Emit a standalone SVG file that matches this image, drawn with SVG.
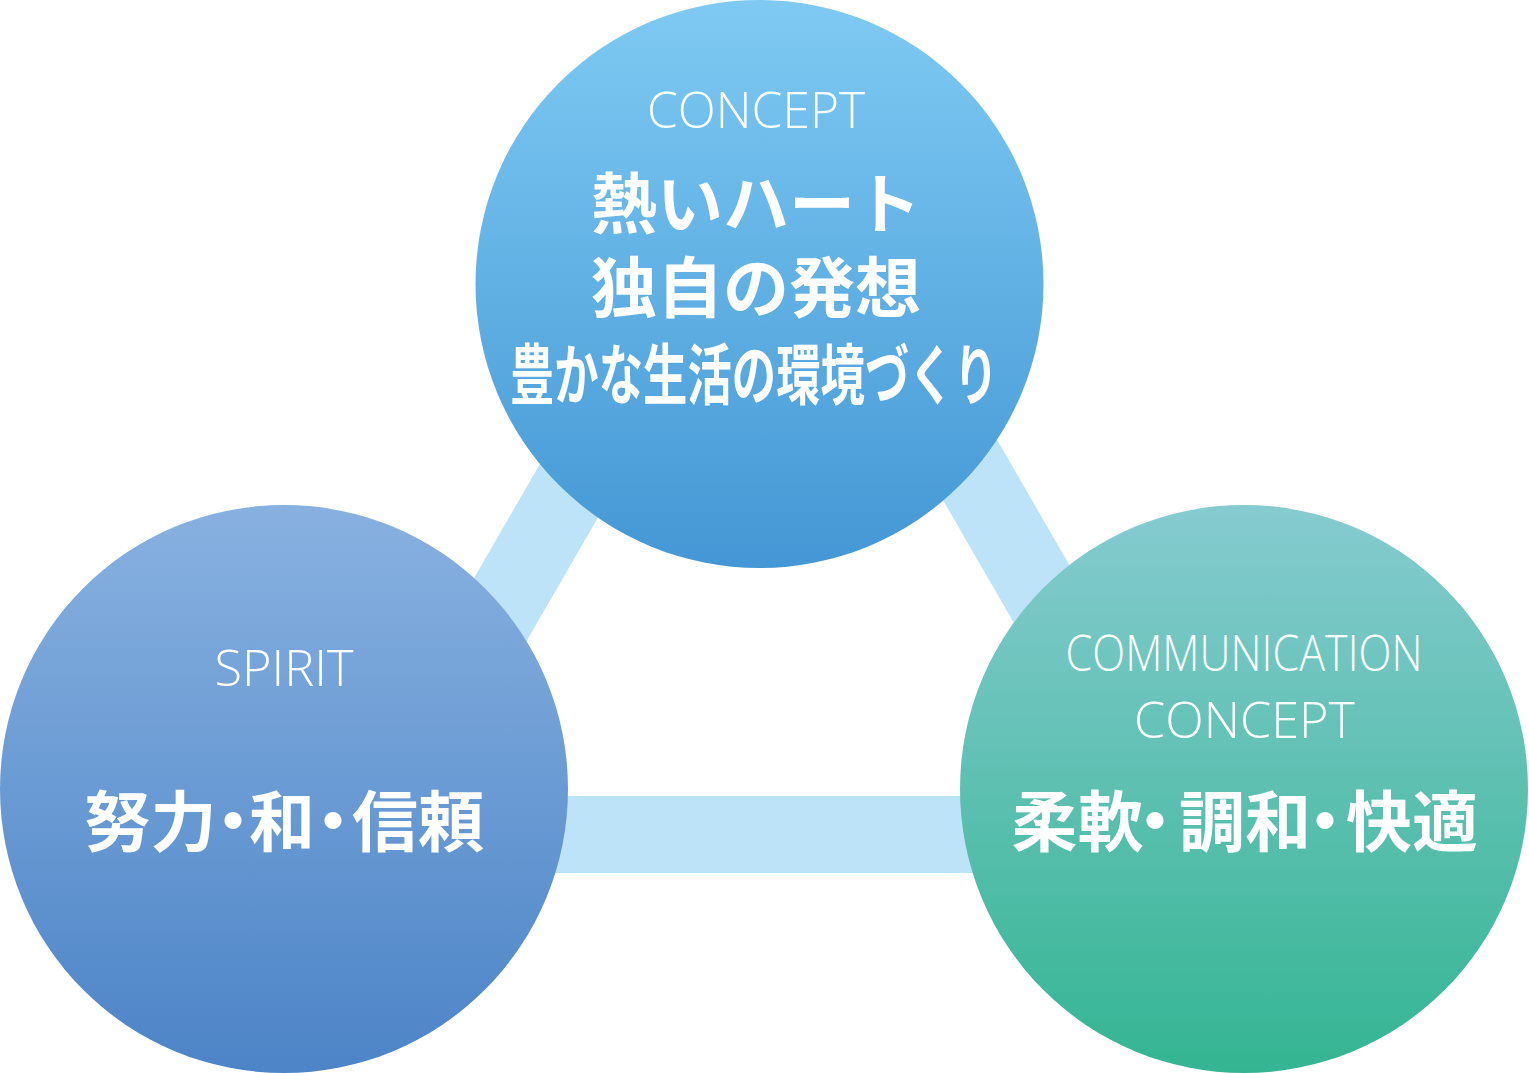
<svg xmlns="http://www.w3.org/2000/svg" width="1529" height="1073" viewBox="0 0 1529 1073">
<defs>
<linearGradient id="gTop" x1="0" y1="0" x2="0" y2="1">
<stop offset="0" stop-color="#7ecaf3"/>
<stop offset="1" stop-color="#4497d5"/>
</linearGradient>
<linearGradient id="gLeft" x1="0" y1="0" x2="0" y2="1">
<stop offset="0" stop-color="#88b1e0"/>
<stop offset="1" stop-color="#4c84c7"/>
</linearGradient>
<linearGradient id="gRight" x1="0" y1="0" x2="0" y2="1">
<stop offset="0" stop-color="#86cbd0"/>
<stop offset="1" stop-color="#34b592"/>
</linearGradient>
<style>
.bar{stroke:#bce3f7;stroke-width:77;fill:none;stroke-linecap:butt}
.en{font-family:"Open Sans","Liberation Sans",sans-serif;font-weight:300;font-size:50px;fill:#ffffff;text-anchor:middle}
.jp{font-family:"Noto Sans CJK JP","Noto Sans",sans-serif;font-weight:700;font-size:66px;fill:#ffffff;text-anchor:middle}
.row{text-anchor:start}
</style>
</defs>
<rect width="1529" height="1073" fill="#ffffff"/>
<g id="connectors">
<line class="bar" x1="775.5" y1="133" x2="370.5" y2="834.5"/>
<line class="bar" x1="775.5" y1="133" x2="1180.5" y2="834.5"/>
<line class="bar" x1="370.5" y1="834.5" x2="1180.5" y2="834.5"/>
</g>
<g id="node-concept">
<circle cx="759.5" cy="284" r="284" fill="url(#gTop)"/>
<text class="en" x="756" y="128" textLength="218" lengthAdjust="spacingAndGlyphs">CONCEPT</text>
<text class="jp" x="756" y="228">熱いハート</text>
<text class="jp" x="756" y="312">独自の発想</text>
<text class="jp" x="754" y="399" font-size="62" textLength="488" lengthAdjust="spacingAndGlyphs">豊かな生活の環境づくり</text>
</g>
<g id="node-spirit">
<circle cx="284" cy="789" r="284" fill="url(#gLeft)"/>
<text class="en" x="284" y="686" textLength="139" lengthAdjust="spacingAndGlyphs">SPIRIT</text>
<text class="jp row" x="84.5" y="846" dx="0 0 -16.5 -17 -15 -14 0">努力・和・信頼</text>
</g>
<g id="node-communication">
<circle cx="1244" cy="789" r="284" fill="url(#gRight)"/>
<text class="en" x="1244" y="671" textLength="357" lengthAdjust="spacingAndGlyphs">COMMUNICATION</text>
<text class="en" x="1244.5" y="737.5" textLength="221" lengthAdjust="spacingAndGlyphs">CONCEPT</text>
<text class="jp row" x="1011.5" y="846" dx="0 0 -21.5 -9 0 -19 -12 0">柔軟・調和・快適</text>
</g>
</svg>
